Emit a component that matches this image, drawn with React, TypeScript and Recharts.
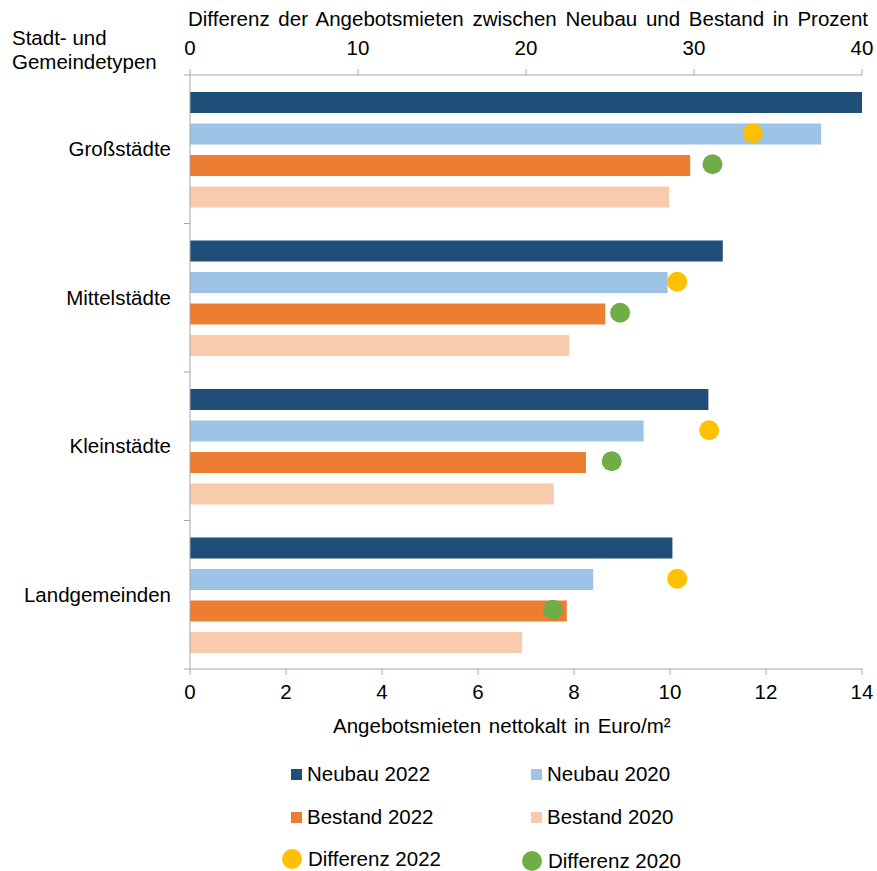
import React from 'react';
import { ComposedChart, Bar, Scatter, XAxis, YAxis } from 'recharts';

// Stadt- und Gemeindetypen
const categories = ['Großstädte', 'Mittelstädte', 'Kleinstädte', 'Landgemeinden'];

// Angebotsmieten nettokalt in Euro/m²
const neubau2022 = [14.0, 11.1, 10.8, 10.05];
const neubau2020 = [13.15, 9.95, 9.45, 8.4];
const bestand2022 = [10.42, 8.65, 8.25, 7.85];
const bestand2020 = [9.98, 7.9, 7.58, 6.92];

// Differenz Neubau/Bestand in Prozent
const differenz2022 = [33.5, 29.0, 30.9, 29.0];
const differenz2020 = [31.1, 25.6, 25.1, 21.6];

const euroTicks = [0, 2, 4, 6, 8, 10, 12, 14];
const pctTicks = [0, 10, 20, 30, 40];

const COLORS = {
  neubau2022: '#1F4E79',
  neubau2020: '#9DC3E6',
  bestand2022: '#ED7D31',
  bestand2020: '#F8CBAD',
  diff2022: '#FFC000',
  diff2020: '#70AD47',
};

const FONT = '"Liberation Sans", Arial, sans-serif';
const FS = 20.5;
const AXIS = '#a6a6a6';

const W = 877;
const H = 871;
const PLOT_LEFT = 190;
const PLOT_TOP = 75;
const PLOT_BOTTOM = 669;
const BAND = (PLOT_BOTTOM - PLOT_TOP) / categories.length;

const data = categories.map((name, i) => ({
  name,
  neubau2022: neubau2022[i],
  neubau2020: neubau2020[i],
  bestand2022: bestand2022[i],
  bestand2020: bestand2020[i],
  diff2022: differenz2022[i],
  diff2020: differenz2020[i],
}));

const CategoryTick = (props: any) => {
  const { y, payload, index } = props;
  const top = y - BAND / 2;
  return (
    <g>
      <line x1={PLOT_LEFT - 6} x2={PLOT_LEFT} y1={top} y2={top} stroke={AXIS} />
      {index === categories.length - 1 && (
        <line x1={PLOT_LEFT - 6} x2={PLOT_LEFT} y1={top + BAND} y2={top + BAND} stroke={AXIS} />
      )}
      <text x={PLOT_LEFT - 19} y={y} dy="0.35em" textAnchor="end" fontSize={FS} fill="#000" fontFamily={FONT}>
        {payload.value}
      </text>
    </g>
  );
};

// dots sit on the 2nd (2022) and 3rd (2020) bar row of each group
const dot = (color: string, offset: number) => (p: any) =>
  <circle cx={p.cx} cy={p.cy + offset} r={10} fill={color} />;

const LegendItem = ({ label, color, round, x, y }: { label: string; color: string; round?: boolean; x: number; y: number }) => (
  <div style={{ position: 'absolute', left: x, top: y - 12, height: 24, display: 'flex', alignItems: 'center' }}>
    <div
      style={{
        width: round ? 20 : 11,
        height: round ? 20 : 11,
        borderRadius: round ? '50%' : 0,
        background: color,
        marginLeft: round ? -9 : 0,
        marginRight: round ? 6 : 5,
      }}
    />
    <span style={{ fontSize: FS }}>{label}</span>
  </div>
);

export default function App() {
  return (
    <div style={{ position: 'absolute', left: 0, top: 0, width: W, height: H, background: '#fff', fontFamily: FONT, color: '#000' }}>
      <div style={{ position: 'absolute', left: 12, top: 26, fontSize: FS, lineHeight: '24px' }}>
        Stadt- und
        <br />
        Gemeindetypen
      </div>
      <div style={{ position: 'absolute', left: 188, top: 7, fontSize: FS, whiteSpace: 'nowrap', wordSpacing: 3 }}>
        Differenz der Angebotsmieten zwischen Neubau und Bestand in Prozent
      </div>
      <div style={{ position: 'absolute', left: 333, top: 714, fontSize: FS, whiteSpace: 'nowrap', wordSpacing: 2 }}>
        Angebotsmieten nettokalt in Euro/m²
      </div>

      <ComposedChart
        width={W}
        height={H}
        data={data}
        layout="vertical"
        margin={{ top: 35, right: 15, bottom: 172, left: 10 }}
        barSize={21}
        barGap={10.5}
      >
        <XAxis
          xAxisId="eur"
          type="number"
          orientation="bottom"
          domain={[0, 14]}
          ticks={euroTicks}
          height={30}
          stroke={AXIS}
          tickSize={6}
          tickMargin={9}
          tick={{ fontSize: FS, fill: '#000', fontFamily: FONT }}
        />
        <XAxis
          xAxisId="pct"
          type="number"
          orientation="top"
          domain={[0, 40]}
          ticks={pctTicks}
          height={40}
          stroke={AXIS}
          tickSize={6}
          tickMargin={14}
          tick={{ fontSize: FS, fill: '#000', fontFamily: FONT }}
        />
        <YAxis
          type="category"
          dataKey="name"
          width={180}
          stroke={AXIS}
          tickLine={false}
          tick={<CategoryTick />}
        />
        <Bar xAxisId="eur" dataKey="neubau2022" fill={COLORS.neubau2022} isAnimationActive={false} />
        <Bar xAxisId="eur" dataKey="neubau2020" fill={COLORS.neubau2020} isAnimationActive={false} />
        <Bar xAxisId="eur" dataKey="bestand2022" fill={COLORS.bestand2022} isAnimationActive={false} />
        <Bar xAxisId="eur" dataKey="bestand2020" fill={COLORS.bestand2020} isAnimationActive={false} />
        <Scatter xAxisId="pct" dataKey="diff2022" shape={dot(COLORS.diff2022, -16)} isAnimationActive={false} />
        <Scatter xAxisId="pct" dataKey="diff2020" shape={dot(COLORS.diff2020, 15)} isAnimationActive={false} />
      </ComposedChart>

      <LegendItem label="Neubau 2022" color={COLORS.neubau2022} x={291} y={774} />
      <LegendItem label="Neubau 2020" color={COLORS.neubau2020} x={531} y={774} />
      <LegendItem label="Bestand 2022" color={COLORS.bestand2022} x={291} y={817} />
      <LegendItem label="Bestand 2020" color={COLORS.bestand2020} x={531} y={817} />
      <LegendItem label="Differenz 2022" color={COLORS.diff2022} round x={291} y={859} />
      <LegendItem label="Differenz 2020" color={COLORS.diff2020} round x={531} y={861} />
    </div>
  );
}
